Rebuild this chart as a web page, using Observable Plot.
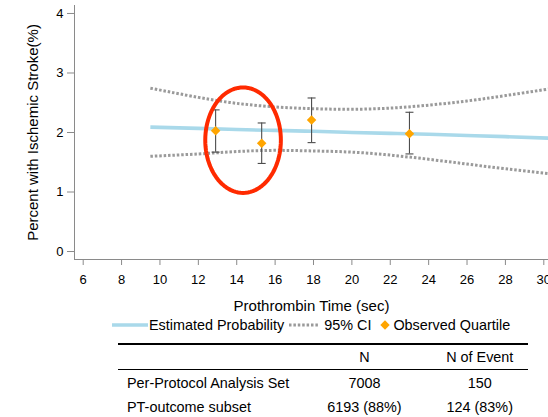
<!DOCTYPE html>
<html>
<head>
<meta charset="utf-8">
<script src="https://cdn.jsdelivr.net/npm/d3@7"></script>
<script src="https://cdn.jsdelivr.net/npm/@observablehq/plot@0.6"></script>
<style>
  body { margin: 0; background: #fff; font-family: "Liberation Sans", Arial, sans-serif; color: #000; }
  #wrap { position: relative; width: 548px; height: 417px; overflow: hidden; }
  #chart { position: absolute; left: 0; top: 0; }
  #legend { position: absolute; left: 112px; top: 315px; height: 20px; display: flex; align-items: center; font-size: 14.4px; white-space: nowrap; }
  #legend .item { display: flex; align-items: center; }
  #tbl { position: absolute; left: 118px; top: 343px; width: 410px; font-size: 14.4px; }
  #tbl .row { position: relative; display: flex; align-items: center; }
  #tbl .c0 { width: 200px; padding-left: 9px; box-sizing: border-box; white-space: nowrap; }
  #tbl .c1 { width: 110px; text-align: center; white-space: nowrap; }
  #tbl .c2 { width: 114px; text-align: center; padding-left: 14px; box-sizing: border-box; white-space: nowrap; }
</style>
</head>
<body>
<div id="wrap">
  <div id="chart"></div>
  <div id="legend"></div>
  <div id="tbl"></div>
</div>
<script>
// Prothrombin time grid for the fitted curve and its confidence band
const ptGrid    = [9.5, 12, 14, 16, 18, 20, 22, 24, 26, 28, 30.24];
const estimated = [2.09, 2.07, 2.05, 2.035, 2.02, 2.00, 1.985, 1.97, 1.95, 1.93, 1.905];
const ciUpper   = [2.745, 2.59, 2.49, 2.43, 2.40, 2.39, 2.41, 2.46, 2.53, 2.62, 2.73];
const ciLower   = [1.60, 1.64, 1.68, 1.70, 1.69, 1.67, 1.62, 1.55, 1.47, 1.39, 1.31];

// Observed stroke rate by PT quartile, with 95% intervals
const quartilePT   = [12.9, 15.3, 17.9, 23.0];
const quartileRate = [2.03, 1.82, 2.21, 1.98];
const quartileLow  = [1.67, 1.48, 1.83, 1.64];
const quartileHigh = [2.38, 2.16, 2.58, 2.34];

// Axis settings
const xTicks = [6, 8, 10, 12, 14, 16, 18, 20, 22, 24, 26, 28, 30];
const yTicks = [0, 1, 2, 3, 4];
const xDomain = [5.547, 30.245];
const yDomain = [-0.134, 4.134];
const xTitle = "Prothrombin Time (sec)";
const yTitle = "Percent with Ischemic Stroke(%)";

// Highlight ellipse around the two lower quartiles (centre and radii in data units)
const highlightCenter = [14.33, 1.871];
const highlightRadii  = [1.97, 0.886];

// Legend and summary table
const legendLabels = ["Estimated Probability", "95% CI", "Observed Quartile"];
const tableColumns = ["N", "N of Event"];
const tableRows    = ["Per-Protocol Analysis Set", "PT-outcome subset"];
const tableN       = ["7008", "6193 (88%)"];
const tableEvents  = ["150", "124 (83%)"];

const colors = { est: "#a9d9ea", ci: "#9a9a9a", obs: "#ffa500", err: "#4d4d4d", axis: "#8a8a8a", ring: "#ff2a00" };

const curve = ptGrid.map((x, i) => ({ x, est: estimated[i], hi: ciUpper[i], lo: ciLower[i] }));
const quartiles = quartilePT.map((x, i) => ({ x, y: quartileRate[i], lo: quartileLow[i], hi: quartileHigh[i] }));
const ring = d3.range(0, 97).map(k => {
  const t = (k / 96) * 2 * Math.PI;
  return { x: highlightCenter[0] + highlightRadii[0] * Math.cos(t), y: highlightCenter[1] + highlightRadii[1] * Math.sin(t) };
});

// Short horizontal stroke used for error-bar caps
const capSymbol = { draw(ctx, size) { const r = 4; ctx.moveTo(-r, 0); ctx.lineTo(r, 0); } };

const font = '"Liberation Sans", Arial, sans-serif';
const dotted = { stroke: colors.ci, strokeWidth: 3, strokeDasharray: "2.5,1.9", strokeLinecap: "butt", curve: "natural" };

const chart = Plot.plot({
  width: 548,
  height: 315,
  marginLeft: 74,
  marginRight: 0,
  marginTop: 5,
  marginBottom: 56,
  style: { fontFamily: font, fontSize: "13px", background: "white", overflow: "visible" },
  x: { domain: xDomain },
  y: { domain: yDomain },
  marks: [
    Plot.ruleX([xDomain[0]], { stroke: colors.axis }),
    Plot.ruleY([yDomain[0]], { stroke: colors.axis }),
    Plot.axisX({ ticks: xTicks, tickSize: 6, tickPadding: 9, stroke: colors.axis, fill: "#000", fontSize: 13, label: null, tickFormat: d => String(d) }),
    Plot.axisY({ ticks: yTicks, tickSize: 7, tickPadding: 4, stroke: colors.axis, fill: "#000", fontSize: 13, label: null, tickFormat: d => String(d) }),
    Plot.line(curve, { x: "x", y: "hi", ...dotted }),
    Plot.line(curve, { x: "x", y: "lo", ...dotted }),
    Plot.line(curve, { x: "x", y: "est", stroke: colors.est, strokeWidth: 3.6, strokeLinecap: "butt", curve: "natural" }),
    Plot.ruleX(quartiles, { x: "x", y1: "lo", y2: "hi", stroke: colors.err, strokeWidth: 1.1 }),
    Plot.dot(quartiles, { x: "x", y: "lo", symbol: capSymbol, stroke: colors.err, strokeWidth: 1.1, fill: "none" }),
    Plot.dot(quartiles, { x: "x", y: "hi", symbol: capSymbol, stroke: colors.err, strokeWidth: 1.1, fill: "none" }),
    Plot.dot(quartiles, { x: "x", y: "y", symbol: "diamond2", r: 4.3, fill: colors.obs, stroke: "none" }),
    Plot.line(ring, { x: "x", y: "y", stroke: colors.ring, strokeWidth: 4, curve: "linear" }),
    Plot.text([xTitle], { text: d => d, frameAnchor: "bottom", dy: 47, lineAnchor: "middle", textAnchor: "middle", fontSize: 15, fill: "#000" }),
    Plot.text([yTitle], { text: d => d, frameAnchor: "left", dx: -41, rotate: -90, lineAnchor: "middle", textAnchor: "middle", fontSize: 15, fill: "#000" })
  ]
});
document.getElementById("chart").appendChild(chart);

// Legend
const legend = document.getElementById("legend");
const swatches = [
  `<svg width="36" height="10"><line x1="0" x2="36" y1="5" y2="5" stroke="${colors.est}" stroke-width="3.6"/></svg>`,
  `<svg width="30" height="10"><line x1="0" x2="30" y1="5" y2="5" stroke="${colors.ci}" stroke-width="3" stroke-dasharray="2.5,1.9"/></svg>`,
  `<svg width="10" height="10"><path d="M5,0.3L9.7,5L5,9.7L0.3,5Z" fill="${colors.obs}"/></svg>`
];
const gapsBefore = [0, 5, 9];
const gapsText = [1, 5, 3];
legendLabels.forEach((label, i) => {
  const item = document.createElement("div");
  item.className = "item";
  item.style.marginLeft = gapsBefore[i] + "px";
  item.innerHTML = swatches[i] + `<span style="margin-left:${gapsText[i]}px">${label}</span>`;
  legend.appendChild(item);
});

// Summary table
const tbl = document.getElementById("tbl");
let html = `<div style="border-top:2px solid #000"></div>`;
html += `<div class="row" style="height:24px"><div class="c0"></div><div class="c1">${tableColumns[0]}</div><div class="c2">${tableColumns[1]}</div></div>`;
html += `<div style="border-top:1.5px solid #000"></div>`;
tableRows.forEach((r, i) => {
  html += `<div class="row" style="height:${i === 0 ? 25 : 24}px"><div class="c0">${r}</div><div class="c1">${tableN[i]}</div><div class="c2">${tableEvents[i]}</div></div>`;
});
html += `<div style="border-top:1px solid #999"></div>`;
tbl.innerHTML = html;
</script>
</body>
</html>
